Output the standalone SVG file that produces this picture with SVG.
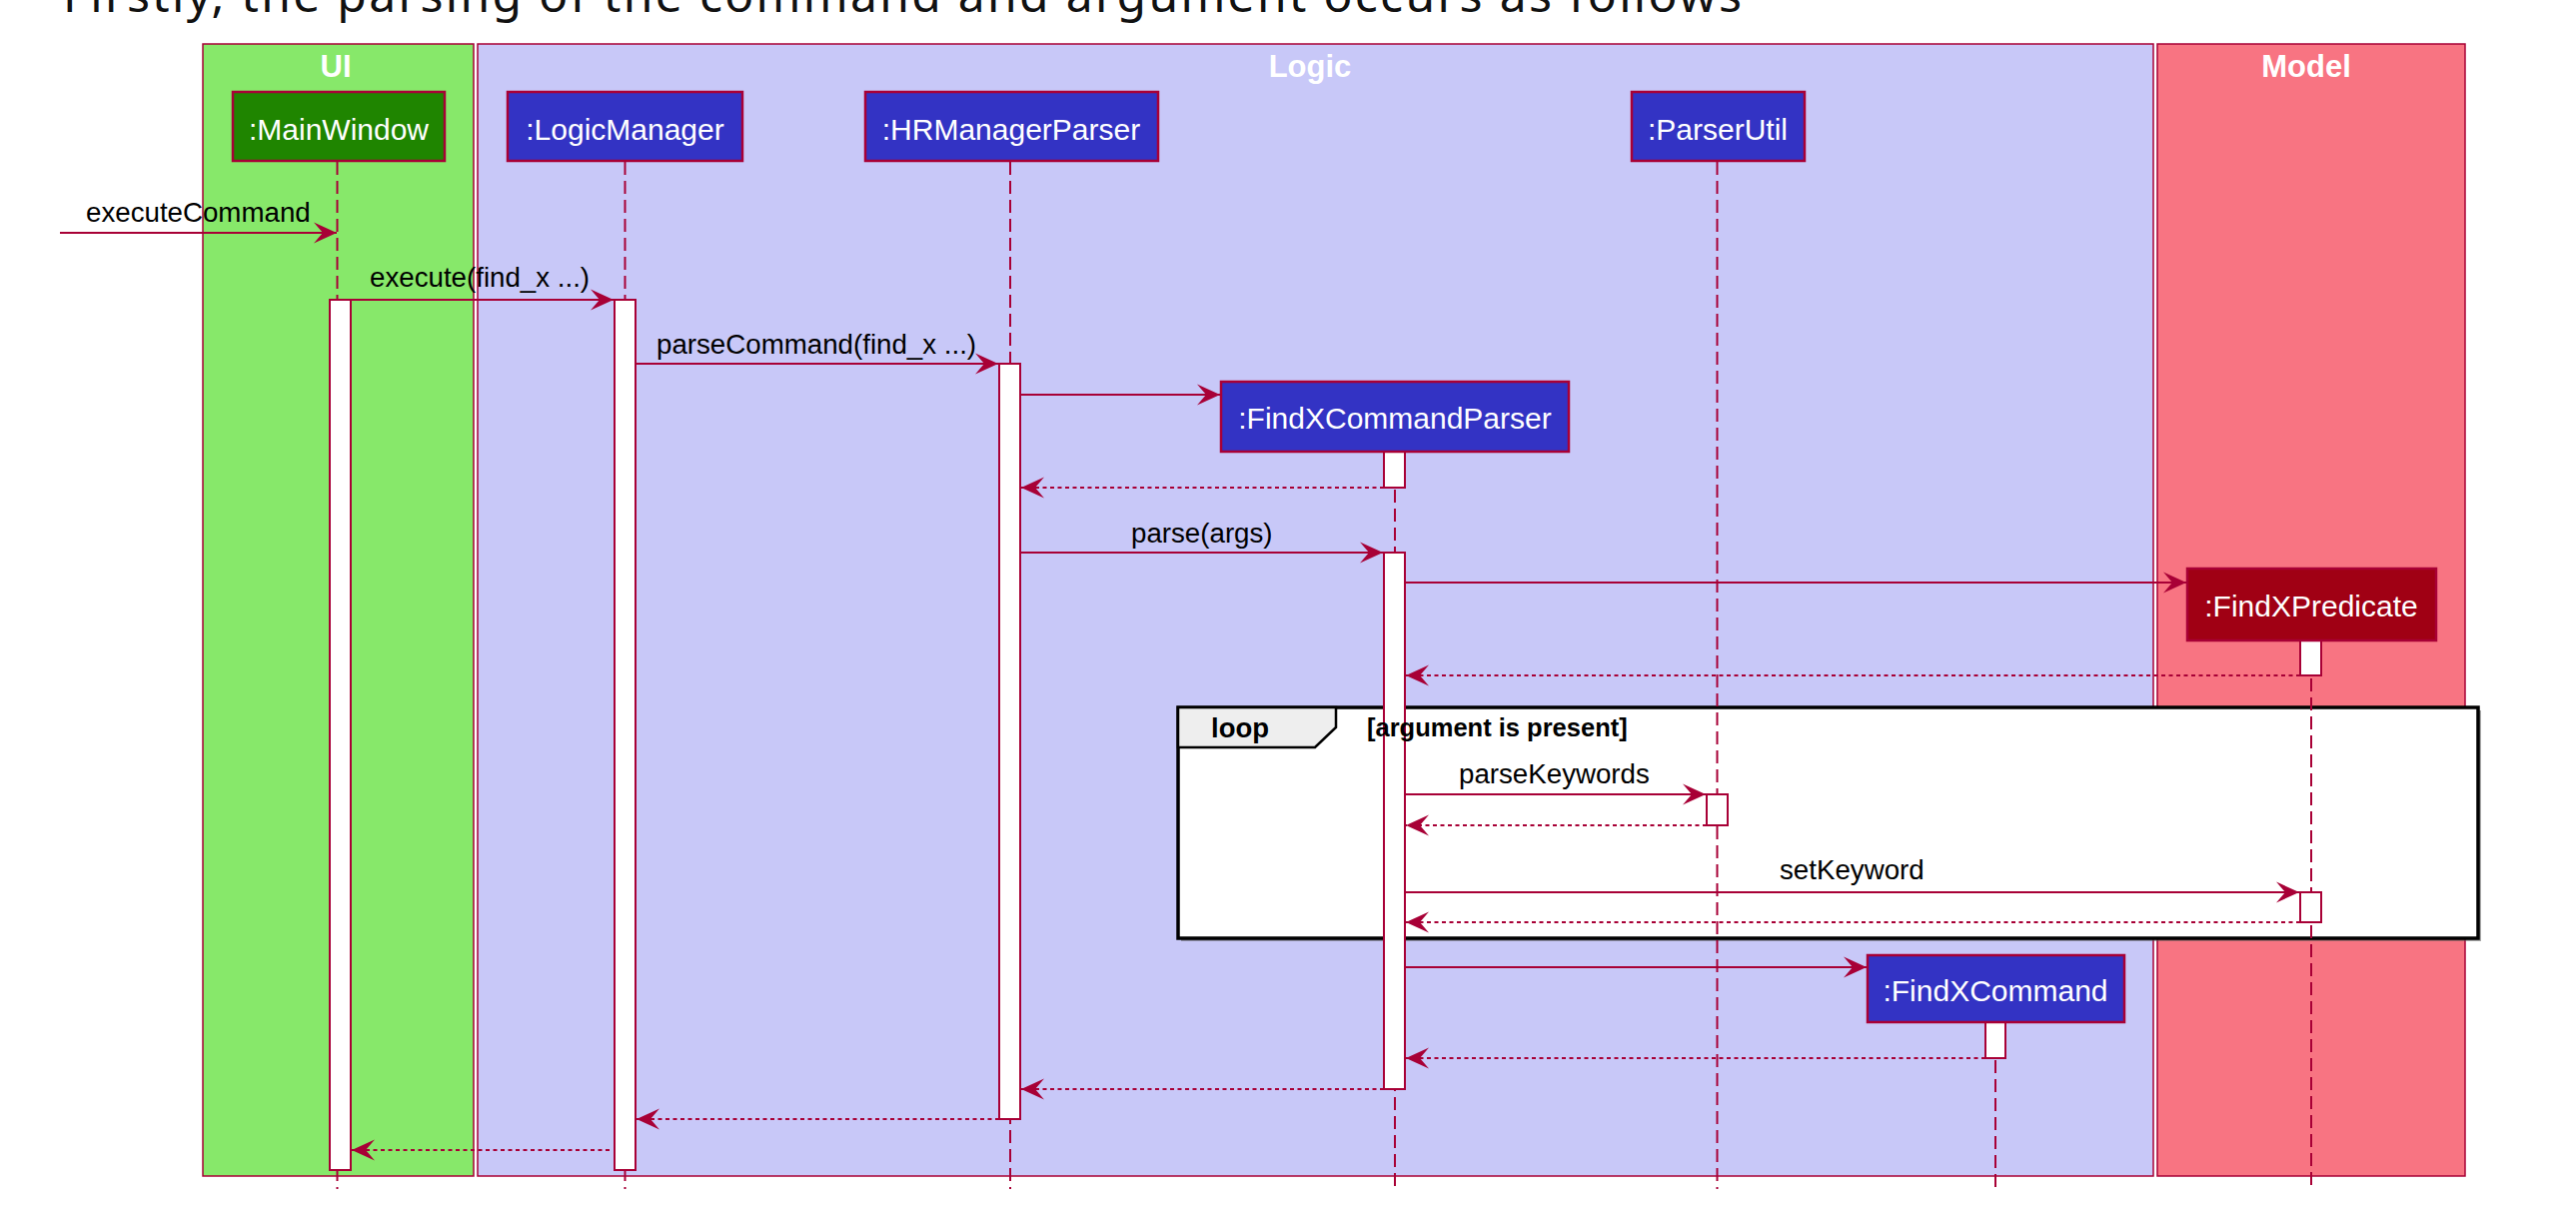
<svg xmlns="http://www.w3.org/2000/svg" width="2578" height="1222" viewBox="0 0 2578 1222">
<style>
.box{stroke:#A80036;stroke-width:1.5}
.boxlabel{font-family:"Liberation Sans",Arial,sans-serif;font-weight:bold;font-size:31px;fill:#FFFFFF;text-anchor:middle}
.part{stroke:#A80036;stroke-width:2.5}
.ptext{font-family:"Liberation Sans",Arial,sans-serif;font-size:30px;fill:#FFFFFF;text-anchor:middle}
.life{stroke:#A80036;stroke-width:2;stroke-dasharray:13,6;fill:none}
.act{fill:#FFFFFF;stroke:#A80036;stroke-width:2}
.msg{stroke:#A80036;stroke-width:2;fill:none;marker-end:url(#ah)}
.ret{stroke:#A80036;stroke-width:2;fill:none;stroke-dasharray:4,3.5;marker-end:url(#ah)}
.mtext{font-family:"Liberation Sans",Arial,sans-serif;font-size:27.7px;fill:#000000}
.frame{fill:#FFFFFF;stroke:#000000;stroke-width:3.5}
.tab{fill:#EEEEEE;stroke:#000000;stroke-width:2.5}
.ftext{font-family:"Liberation Sans",Arial,sans-serif;font-weight:bold;fill:#000000}
</style>
<defs>
<marker id="ah" viewBox="-25 -12 27 24" refX="0" refY="0" markerWidth="27" markerHeight="24" markerUnits="userSpaceOnUse" orient="auto">
<path d="M0,0 L-23,-10.5 L-14,0 L-23,10.5 Z" fill="#A80036"/>
</marker>
</defs>
<rect width="2578" height="1222" fill="#FFFFFF"/>
<text x="63" y="12" font-family="'Noto Sans','Open Sans',sans-serif" font-size="48" fill="#111111" textLength="1680">Firstly, the parsing of the command and argument occurs as follows</text>

<g id="box-ui">
<rect class="box" x="203" y="44" width="271" height="1133" fill="#87E86A"/>
<text class="boxlabel" x="336" y="77">UI</text>
</g>
<g id="box-logic">
<rect class="box" x="478" y="44" width="1677" height="1133" fill="#C8C8F8"/>
<text class="boxlabel" x="1311" y="77">Logic</text>
</g>
<g id="box-model">
<rect class="box" x="2159" y="44" width="308" height="1133" fill="#F87482"/>
<text class="boxlabel" x="2308" y="77">Model</text>
</g>

<g id="loop-frame">
<rect x="1182" y="711" width="1301" height="231" fill="#555555" opacity="0.5"/>
<rect class="frame" x="1179" y="708" width="1301" height="231"/>
<polygon class="tab" points="1179,708 1337,708 1337,728 1316,748 1179,748"/>
</g>

<g id="lifelines">
<line class="life" x1="337.5" y1="162" x2="337.5" y2="1190"/>
<line class="life" x1="625.5" y1="162" x2="625.5" y2="1190"/>
<line class="life" x1="1011" y1="162" x2="1011" y2="1190"/>
<line class="life" x1="1396" y1="452" x2="1396" y2="1190"/>
<line class="life" x1="1718.5" y1="162" x2="1718.5" y2="1190"/>
<line class="life" x1="1997" y1="1023" x2="1997" y2="1188"/>
<line class="life" x1="2313" y1="641" x2="2313" y2="1190"/>
</g>

<g id="activations">
<rect class="act" x="330" y="300" width="21" height="871"/>
<rect class="act" x="615" y="300" width="21" height="871"/>
<rect class="act" x="1000" y="364" width="21" height="756"/>
<rect class="act" x="1385" y="452" width="21" height="36"/>
<rect class="act" x="1385" y="553" width="21" height="537"/>
<rect class="act" x="2302" y="641" width="21" height="35"/>
<rect class="act" x="1708" y="795" width="21" height="31"/>
<rect class="act" x="2302" y="893" width="21" height="30"/>
<rect class="act" x="1987" y="1023" width="20" height="36"/>
</g>

<g id="loop-labels">
<text class="ftext" x="1212" y="738" font-size="27.5">loop</text>
<text class="ftext" x="1368" y="737" font-size="25.5">[argument is present]</text>
</g>

<g id="MainWindow">
<rect class="part" x="233" y="92" width="212" height="69" fill="#1F8500"/>
<text class="ptext" x="339" y="140">:MainWindow</text>
</g>
<g id="LogicManager">
<rect class="part" x="508" y="92" width="235" height="69" fill="#3333C4"/>
<text class="ptext" x="625.5" y="140">:LogicManager</text>
</g>
<g id="HRManagerParser">
<rect class="part" x="866" y="92" width="293" height="69" fill="#3333C4"/>
<text class="ptext" x="1012" y="140">:HRManagerParser</text>
</g>
<g id="ParserUtil">
<rect class="part" x="1633" y="92" width="173" height="69" fill="#3333C4"/>
<text class="ptext" x="1719" y="140">:ParserUtil</text>
</g>
<g id="FindXCommandParser">
<rect class="part" x="1222" y="382" width="348" height="70" fill="#3333C4"/>
<text class="ptext" x="1396" y="429">:FindXCommandParser</text>
</g>
<g id="FindXPredicate">
<rect class="part" x="2189" y="569" width="249" height="72" fill="#A00014"/>
<text class="ptext" x="2313" y="617">:FindXPredicate</text>
</g>
<g id="FindXCommand">
<rect class="part" x="1869" y="956" width="257" height="67" fill="#3333C4"/>
<text class="ptext" x="1997" y="1002">:FindXCommand</text>
</g>

<g id="connectors">
<line class="msg" x1="60" y1="233" x2="337" y2="233"/>
<line class="msg" x1="351" y1="300" x2="614" y2="300"/>
<line class="msg" x1="636" y1="364" x2="999" y2="364"/>
<line class="msg" x1="1021" y1="395" x2="1221" y2="395"/>
<line class="ret" x1="1385" y1="488" x2="1022" y2="488"/>
<line class="msg" x1="1021" y1="553" x2="1384" y2="553"/>
<line class="msg" x1="1406" y1="583" x2="2188" y2="583"/>
<line class="ret" x1="2302" y1="676" x2="1407" y2="676"/>
<line class="msg" x1="1406" y1="795" x2="1707" y2="795"/>
<line class="ret" x1="1708" y1="826" x2="1407" y2="826"/>
<line class="msg" x1="1406" y1="893" x2="2301" y2="893"/>
<line class="ret" x1="2302" y1="923" x2="1407" y2="923"/>
<line class="msg" x1="1406" y1="968" x2="1868" y2="968"/>
<line class="ret" x1="1987" y1="1059" x2="1407" y2="1059"/>
<line class="ret" x1="1385" y1="1090" x2="1022" y2="1090"/>
<line class="ret" x1="1000" y1="1120" x2="637" y2="1120"/>
<line class="ret" x1="610" y1="1151" x2="352" y2="1151"/>
<text class="mtext" x="86" y="222">executeCommand</text>
<text class="mtext" x="370" y="287">execute(find_x ...)</text>
<text class="mtext" x="657" y="354">parseCommand(find_x ...)</text>
<text class="mtext" x="1132" y="543">parse(args)</text>
<text class="mtext" x="1460" y="784">parseKeywords</text>
<text class="mtext" x="1781" y="880">setKeyword</text>
</g>
</svg>
